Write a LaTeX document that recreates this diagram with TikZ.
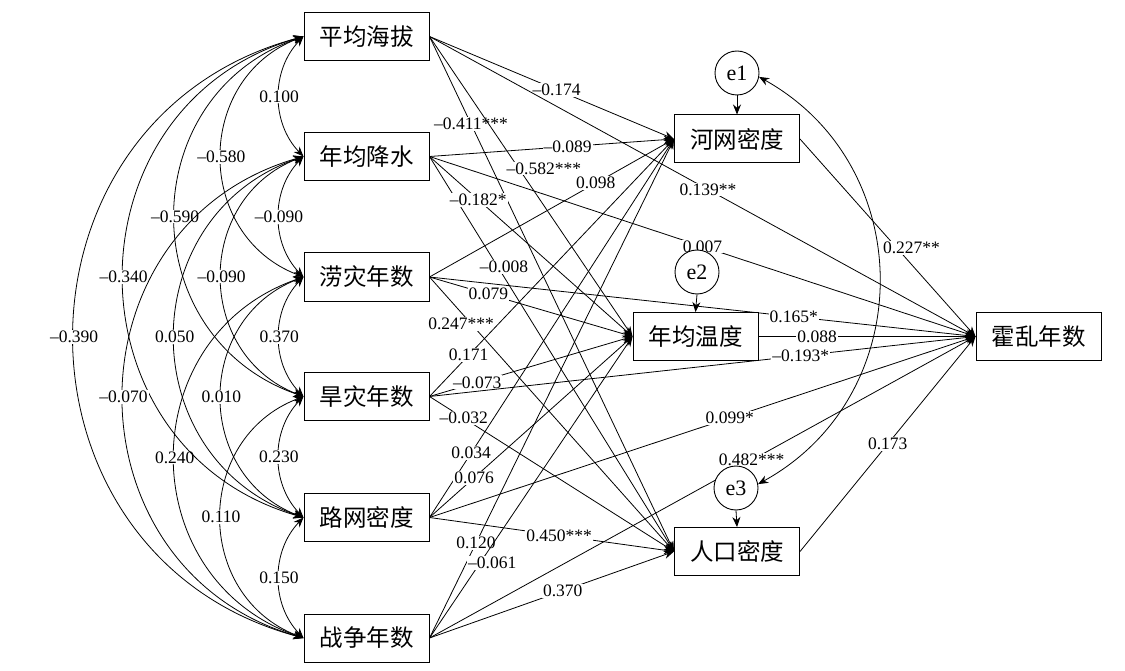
\documentclass[tikz,border=0pt]{standalone}
\usepackage{fontspec}
\setmainfont{Liberation Serif}
\newfontfamily\cjk{Noto Sans CJK SC}
\usetikzlibrary{arrows.meta,backgrounds}

\tikzset{
  box/.style={draw, line width=1pt, fill=white, minimum width=125pt, minimum height=48pt,
    inner sep=0pt, font=\cjk\fontsize{23.5}{24}\selectfont},
  err/.style={draw, line width=0.9pt, circle, fill=white, minimum size=44pt, inner sep=0pt,
    font=\fontsize{22}{22}\selectfont},
  lab/.style={fill=white, inner sep=1pt, font=\fontsize{17.5}{18}\selectfont},
  effect/.style={-{Stealth[length=10pt,width=8pt]}, line width=0.8pt},
  cov/.style={{Stealth[length=10pt,width=8pt]}-{Stealth[length=10pt,width=8pt]}, line width=0.8pt},
}

\begin{document}
\begin{tikzpicture}[x=1pt,y=-1pt]
\useasboundingbox (0,0) rectangle (1125,671);

% Left column: exogenous variables
\node[box] (hb) at (366.5,36.5) {平均海拔};
\node[box] (js) at (366.5,156.5) {年均降水};
\node[box] (lz) at (366.5,277) {涝灾年数};
\node[box] (hz) at (366.5,396.5) {旱灾年数};
\node[box] (lw) at (366.5,517.5) {路网密度};
\node[box] (zz) at (366.5,638) {战争年数};

% Middle column
\node[box] (hw) at (737,139) {河网密度};
\node[box] (wd) at (695.5,336.5) {年均温度};
\node[box] (rk) at (737,551.5) {人口密度};

% Outcome
\node[box] (hl) at (1038.5,336.5) {霍乱年数};

% Error terms
\node[err] (e1) at (737,73) {e1};
\node[err] (e2) at (697,272) {e2};
\node[err] (e3) at (736,488) {e3};

\begin{pgfonlayer}{background}
% Covariances, neighbours
\draw[cov] (hb.west) to[bend right=44,looseness=1] node[lab]{0.100} (js.west);
\draw[cov] (js.west) to[bend right=44,looseness=1] node[lab]{–0.090} (lz.west);
\draw[cov] (lz.west) to[bend right=44,looseness=1] node[lab]{0.370} (hz.west);
\draw[cov] (hz.west) to[bend right=44,looseness=1] node[lab]{0.230} (lw.west);
\draw[cov] (lw.west) to[bend right=44,looseness=1] node[lab]{0.150} (zz.west);

% Covariances, two apart
\draw[cov] (hb.west) to[bend right=69,looseness=1.25] node[lab]{–0.580} (lz.west);
\draw[cov] (js.west) to[bend right=69,looseness=1.25] node[lab]{–0.090} (hz.west);
\draw[cov] (lz.west) to[bend right=69,looseness=1.25] node[lab]{0.010} (lw.west);
\draw[cov] (hz.west) to[bend right=69,looseness=1.25] node[lab]{0.110} (zz.west);

% Covariances, three apart
\draw[cov] (hb.west) to[bend right=71,looseness=1.29] node[lab]{–0.590} (hz.west);
\draw[cov] (js.west) to[bend right=71,looseness=1.29] node[lab]{0.050} (lw.west);
\draw[cov] (lz.west) to[bend right=71,looseness=1.29] node[lab]{0.240} (zz.west);

% Covariances, four and five apart
\draw[cov] (hb.west) to[bend right=74,looseness=1.33] node[lab]{–0.340} (lw.west);
\draw[cov] (js.west) to[bend right=74,looseness=1.33] node[lab]{–0.070} (zz.west);
\draw[cov] (hb.west) to[bend right=75,looseness=1.35] node[lab]{–0.390} (zz.west);

% 平均海拔
\draw[effect] (hb.east) -- node[lab,pos=.17]{–0.411***} (rk.west);
\draw[effect] (hb.east) -- node[lab,pos=.44,xshift=25pt]{–0.582***} (wd.west);
\draw[effect] (hb.east) -- node[lab,pos=.52]{–0.174} (hw.west);
\draw[effect] (hb.east) -- node[lab,pos=.51]{0.139**} (hl.west);

% 年均降水
\draw[effect] (js.east) -- node[lab,pos=.565]{–0.089} (hw.west);
\draw[effect] (js.east) -- node[lab,pos=.28,xshift=6pt]{–0.008} (rk.west);
\draw[effect] (js.east) -- node[lab,pos=.24]{–0.182*} (wd.west);
\draw[effect] (js.east) -- node[lab,pos=.5]{0.007} (hl.west);

% 涝灾年数
\draw[effect] (lz.east) -- node[lab,pos=.68]{0.098} (hw.west);
\draw[effect] (lz.east) -- node[lab,pos=.17,xshift=-10pt]{0.247***} (rk.west);
\draw[effect] (lz.east) -- node[lab,pos=.29]{0.079} (wd.west);
\draw[effect] (lz.east) -- node[lab,pos=.667]{0.165*} (hl.west);

% 旱灾年数
\draw[effect] (hz.east) -- node[lab,pos=.16]{0.171} (hw.west);
\draw[effect] (hz.east) -- node[lab,pos=.14]{–0.032} (rk.west);
\draw[effect] (hz.east) -- node[lab,pos=.235]{–0.073} (wd.west);
\draw[effect] (hz.east) -- node[lab,pos=.68]{–0.193*} (hl.west);

% 路网密度
\draw[effect] (lw.east) -- node[lab,pos=.17]{0.034} (hw.west);
\draw[effect] (lw.east) -- node[lab,pos=.22]{0.076} (wd.west);
\draw[effect] (lw.east) -- node[lab,pos=.53]{0.450***} (rk.west);
\draw[effect] (lw.east) -- node[lab,pos=.55]{0.099*} (hl.west);

% 战争年数
\draw[effect] (zz.east) -- node[lab,pos=.19]{0.120} (hw.west);
\draw[effect] (zz.east) -- node[lab,pos=.25,xshift=12pt]{–0.061} (wd.west);
\draw[effect] (zz.east) -- node[lab,pos=.545]{0.370} (rk.west);
\draw[effect] (zz.east) -- node[lab,pos=.59]{0.482***} (hl.west);

% Mediators to outcome
\draw[effect] (hw.east) -- node[lab,pos=.55,xshift=15pt]{0.227**} (hl.west);
\draw[effect] (wd.east) -- node[lab,pos=.27]{0.088} (hl.west);
\draw[effect] (rk.east) -- node[lab,pos=.5]{0.173} (hl.west);

% Error terms
\draw[effect] (e1.south) -- (hw.north);
\draw[effect] (e2.south) -- (wd.north);
\draw[effect] (e3.south) -- (rk.north);
\draw[cov] (e1.-10) to[bend left=61,looseness=1.15] (e3.10);
\end{pgfonlayer}

\end{tikzpicture}
\end{document}
